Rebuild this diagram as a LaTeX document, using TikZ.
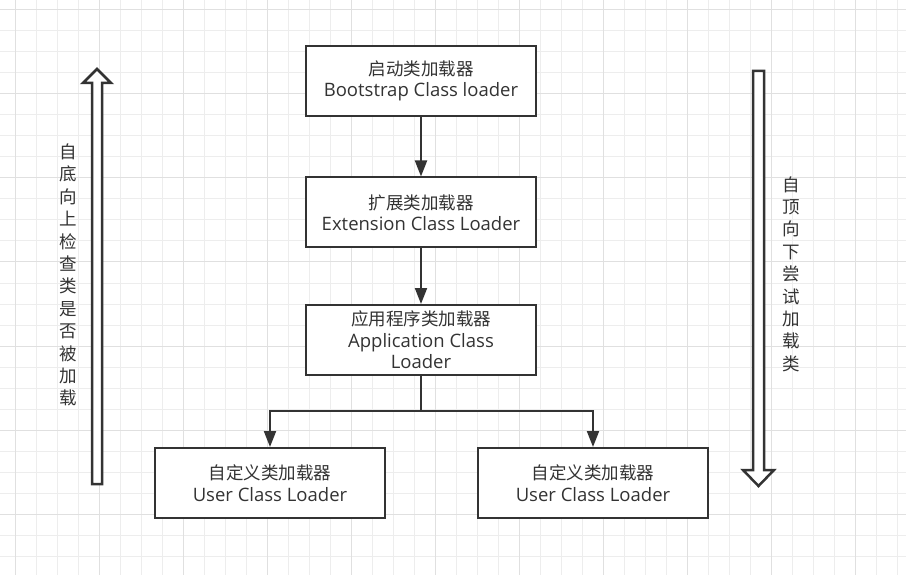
\documentclass[tikz,border=0pt]{standalone}
\usepackage{fontspec}
\setmainfont{Open Sans}
\newfontfamily\cjk{Noto Sans CJK SC}
\usetikzlibrary{arrows.meta}
\definecolor{gridminor}{HTML}{EDEDED}
\definecolor{gridmajor}{HTML}{E0E0E0}
\definecolor{ink}{HTML}{333333}
\newcommand\zh[1]{{\cjk\fontsize{17.5}{21.5}\selectfont #1}}
\begin{document}
\begin{tikzpicture}[x=1pt,y=-1pt,
  box/.style={draw=ink, line width=2pt, fill=white, minimum width=230pt, minimum height=70pt,
    align=center, text=ink, font=\fontsize{18.5}{21.5}\selectfont, inner sep=0pt},
  conn/.style={draw=ink, line width=2pt, -{Triangle[length=16pt,width=12pt]}},
  wire/.style={draw=ink, line width=2pt},
  bigarrow/.style={draw=ink, line width=2.5pt, fill=white, line join=miter},
  vtext/.style={text=ink, align=center, font=\cjk\fontsize{17.5}{22.4}\selectfont, inner sep=0pt}]
\useasboundingbox (0,0) rectangle (906,575);
\fill[white] (0,0) rectangle (906,575);
\foreach \x in {15,36,...,906} \draw[gridminor, line width=1pt] (\x,0) -- (\x,575);
\foreach \y in {10,31,...,575} \draw[gridminor, line width=1pt] (0,\y) -- (906,\y);
\foreach \x in {15,99,...,906} \draw[gridmajor, line width=1pt] (\x,0) -- (\x,575);
\foreach \y in {10,94,...,575} \draw[gridmajor, line width=1pt] (0,\y) -- (906,\y);

\node[box] (b1) at (421,81) {\zh{启动类加载器}\\Bootstrap Class loader};
\node[box] (b2) at (421,212.5) {\zh{扩展类加载器}\\Extension Class Loader};
\node[box] (b3) at (421,340) {\zh{应用程序类加载器}\\Application Class\\Loader};
\node[box] (b4) at (270,483) {\zh{自定义类加载器}\\User Class Loader};
\node[box] (b5) at (593,483) {\zh{自定义类加载器}\\User Class Loader};

\coordinate (j) at (421,411);
\draw[conn] (b1) -- (b2);
\draw[conn] (b2) -- (b3);
\draw[wire] (b3.south) -- (j);
\draw[conn] (j) -| (b4.north);
\draw[conn] (j) -| (b5.north);

\draw[bigarrow] (92,484) -- (92,83) -- (83,83) -- (97,69) -- (111,83) -- (102,83) -- (102,484) -- cycle;
\draw[bigarrow] (753,71) -- (764,71) -- (764,470) -- (774,470) -- (758.5,486) -- (743,470) -- (753,470) -- cycle;

\node[vtext] (lt) at (68,275) {自\\底\\向\\上\\检\\查\\类\\是\\否\\被\\加\\载};
\node[vtext] (rt) at (791,274) {自\\顶\\向\\下\\尝\\试\\加\\载\\类};
\end{tikzpicture}
\end{document}
